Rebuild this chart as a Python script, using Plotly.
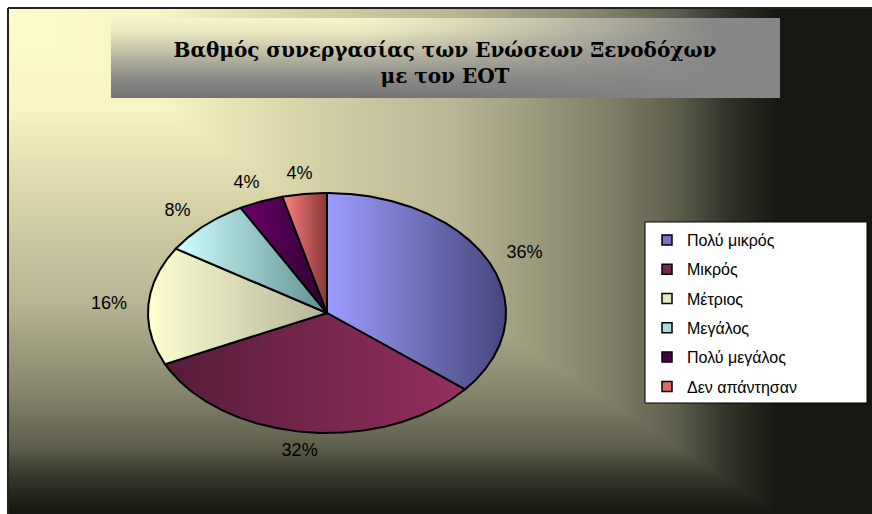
import base64, struct, zlib
import numpy as np
import plotly.graph_objects as go

# ---------------- data ----------------
categories = ["Πολύ μικρός", "Μικρός", "Μέτριος", "Μεγάλος", "Πολύ μεγάλος", "Δεν απάντησαν"]
values = [36, 32, 16, 8, 4, 4]
labels = [f"{v}%" for v in values]
title_text = "Βαθμός συνεργασίας των Ενώσεων Ξενοδόχων<br>με τον ΕΟΤ"

# ---------------- styles ----------------
grad_colors = [
    ("#9c9cff", "#46467c"),
    ("#561c3a", "#95305f"),
    ("#ffffd2", "#b4b496"),
    ("#d0ffff", "#5f9090"),
    ("#6a006a", "#2e002e"),
    ("#ff8484", "#883636"),
]
legend_colors = ["#7070c4", "#7a2650", "#e8e8c0", "#a8dcdc", "#4a0048", "#e06a6a"]

W, H = 872, 514


def hex2rgb(h):
    h = h.lstrip("#")
    return np.array([int(h[i:i + 2], 16) for i in (0, 2, 4)], dtype=float)


def ramp(d, stops):
    pos = np.array([s[0] for s in stops])
    cols = np.array([hex2rgb(s[1]) for s in stops])
    out = np.stack([np.interp(d, pos, cols[:, k]) for k in range(3)], axis=-1)
    return out


def png_uri(arr):
    arr = np.clip(arr, 0, 255).astype(np.uint8)
    h, w, _ = arr.shape
    raw = b"".join(b"\x00" + arr[i].tobytes() for i in range(h))

    def chunk(t, d):
        c = struct.pack(">I", len(d)) + t + d
        return c + struct.pack(">I", zlib.crc32(t + d) & 0xFFFFFFFF)

    png = (b"\x89PNG\r\n\x1a\n"
           + chunk(b"IHDR", struct.pack(">IIBBBBB", w, h, 8, 2, 0, 0, 0))
           + chunk(b"IDAT", zlib.compress(raw, 9))
           + chunk(b"IEND", b""))
    return "data:image/png;base64," + base64.b64encode(png).decode()


# background gradient (from top-left corner)
bw, bh = 432, 253
uu, vv = np.meshgrid(np.linspace(0, 1, bw), np.linspace(0, 1, bh))
dd = np.maximum(uu * 1.12, vv)
bg_stops = [(0, "#fdfacc"), (0.2, "#f8f4c4"), (0.38, "#d8d4a8"), (0.58, "#b8b694"),
            (0.77, "#84836a"), (0.87, "#5e5e4c"), (0.93, "#35352b"), (1.0, "#181813")]
bg_img = png_uri(ramp(dd, bg_stops))

# title box gradient
tw, th = 335, 40
tu, tv = np.meshgrid(np.linspace(0, 1, tw), np.linspace(0, 1, th))
vert = ramp(tv, [(0, "#f8f5c9"), (0.15, "#eeebc2"), (0.5, "#b4b3a0"), (0.75, "#8c8c88"),
                 (0.9, "#7e7e7e"), (1.0, "#747474")])
wgt = np.clip((tu - 0.35) / 0.55, 0, 1) ** 1.3
gray = hex2rgb("#878787")
title_img = png_uri(vert * (1 - wgt[..., None]) + gray * wgt[..., None])

fig = go.Figure()

# ---------------- pie slices (stretched circle) ----------------
total = float(sum(values))
start = 0.0
kx, ky = 1.22, 1.16
lab_x, lab_y = [], []
for i, (cat, v) in enumerate(zip(categories, values)):
    span = 360.0 * v / total
    n = max(3, int(span * 2))
    th_ = np.radians(np.linspace(start, start + span, n))
    xs = np.concatenate([[0], np.sin(th_), [0]])
    ys = np.concatenate([[0], np.cos(th_), [0]])
    c0, c1 = grad_colors[i]
    fig.add_trace(go.Scatter(
        x=xs, y=ys, mode="lines", fill="toself",
        fillgradient=dict(type="horizontal", colorscale=[[0, c0], [1, c1]]),
        line=dict(color="black", width=2),
        name=cat, legendgroup=cat, showlegend=False, hoverinfo="name",
    ))
    mid = np.radians(start + span / 2)
    lab_x.append(kx * np.sin(mid))
    lab_y.append(ky * np.cos(mid))
    start += span

fig.add_trace(go.Scatter(
    x=lab_x, y=lab_y, mode="text", text=labels,
    textfont=dict(family="Liberation Sans, Arial", size=18, color="black"),
    showlegend=False, hoverinfo="skip",
))

# legend entries
for i, cat in enumerate(categories):
    fig.add_trace(go.Scatter(
        x=[None], y=[None], mode="markers", name=cat, legendgroup=cat,
        marker=dict(symbol="square", size=10, color=legend_colors[i],
                    line=dict(color="black", width=1.5)),
    ))

# ---------------- layout ----------------
cx, cy, rx, ry = 327, 313, 179, 120
half_w, half_h = 250, 160
fig.update_layout(
    width=W, height=H, autosize=False,
    margin=dict(l=0, r=0, t=0, b=0, pad=0),
    paper_bgcolor="white", plot_bgcolor="rgba(0,0,0,0)",
    xaxis=dict(visible=False, range=[-half_w / rx, half_w / rx],
               domain=[(cx - half_w) / W, (cx + half_w) / W], fixedrange=True),
    yaxis=dict(visible=False, range=[-half_h / ry, half_h / ry],
               domain=[1 - (cy + half_h) / H, 1 - (cy - half_h) / H], fixedrange=True),
    title=dict(text=title_text, x=445 / W, xanchor="center", xref="paper",
               y=1 - 57 / H, yanchor="middle", yref="paper",
               font=dict(family="DejaVu Serif", size=20, color="black", weight="bold")),
    showlegend=True,
    legend=dict(x=647 / W, y=1 - 223 / H, xanchor="left", yanchor="top",
                bgcolor="rgba(0,0,0,0)", borderwidth=0,
                font=dict(family="Liberation Sans, Arial", size=16, color="black"),
                tracegroupgap=5.5, itemclick=False, itemdoubleclick=False),
    images=[
        dict(source=bg_img, xref="paper", yref="paper", x=8 / W, y=1 - 8 / H,
             sizex=(W - 8) / W, sizey=(H - 8) / H, sizing="stretch",
             xanchor="left", yanchor="top", layer="below"),
        dict(source=title_img, xref="paper", yref="paper", x=111 / W, y=1 - 18 / H,
             sizex=669 / W, sizey=80 / H, sizing="stretch",
             xanchor="left", yanchor="top", layer="below"),
    ],
    shapes=[
        dict(type="line", xref="paper", yref="paper", x0=8 / W, x1=1.0,
             y0=1 - 8 / H, y1=1 - 8 / H, line=dict(color="#222", width=2), layer="above"),
        dict(type="line", xref="paper", yref="paper", x0=8 / W, x1=8 / W,
             y0=0, y1=1 - 8 / H, line=dict(color="#222", width=2), layer="above"),
        dict(type="rect", xref="paper", yref="paper", x0=645 / W, x1=867 / W,
             y0=1 - 403 / H, y1=1 - 222 / H, line=dict(color="black", width=1),
             fillcolor="white", layer="below"),
    ],
)

fig.write_html("out.html")
